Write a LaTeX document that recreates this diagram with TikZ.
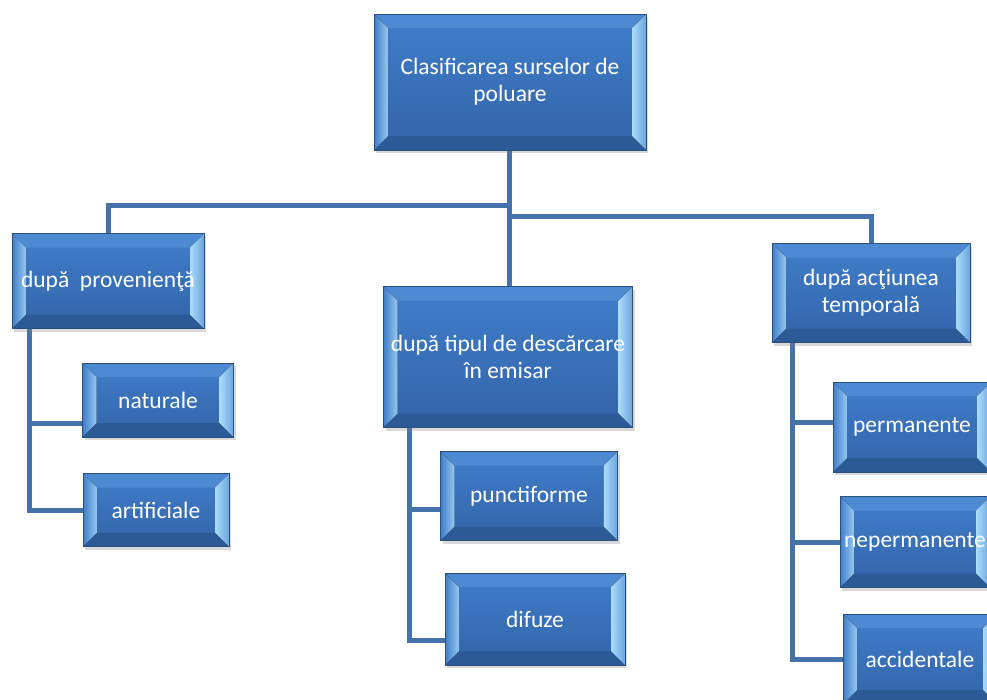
\documentclass[tikz,border=0pt]{standalone}
\usepackage{fontspec}
\setmainfont{Carlito}
\usepackage{tikz}
\usetikzlibrary{positioning,shadows,backgrounds}

\definecolor{boxtop}{RGB}{64,126,202}
\definecolor{boxbot}{RGB}{50,100,168}
\definecolor{boxedge}{RGB}{42,80,130}
\definecolor{bevtop}{RGB}{78,138,210}
\definecolor{bevbot}{RGB}{44,90,150}
\definecolor{bevleft}{RGB}{150,200,240}
\definecolor{bevright}{RGB}{170,220,250}
\definecolor{linkblue}{RGB}{70,114,171}

\tikzset{
  srcbox/.style={draw=boxedge, line width=0.8pt, top color=boxtop, bottom color=boxbot,
    text=white, align=center, inner sep=2pt, font=\fontsize{23.5}{27}\selectfont,
    drop shadow={shadow xshift=2pt, shadow yshift=-3pt, opacity=0.3},
    path picture={
      \coordinate (bnw) at (path picture bounding box.north west);
      \coordinate (bne) at (path picture bounding box.north east);
      \coordinate (bsw) at (path picture bounding box.south west);
      \coordinate (bse) at (path picture bounding box.south east);
      % bevel rim
      \fill[bevtop] (bnw) -- (bne) -- ([shift={(-14pt,-14pt)}]bne) -- ([shift={(14pt,-14pt)}]bnw) -- cycle;
      \fill[bevbot] (bsw) -- (bse) -- ([shift={(-14pt,14pt)}]bse) -- ([shift={(14pt,14pt)}]bsw) -- cycle;
      \fill[left color=boxtop, right color=bevleft] (bsw) -- (bnw) -- ([shift={(14pt,-14pt)}]bnw) -- ([shift={(14pt,14pt)}]bsw) -- cycle;
      \fill[left color=bevright, right color=boxtop!60!bevright] (bse) -- (bne) -- ([shift={(-14pt,-14pt)}]bne) -- ([shift={(-14pt,14pt)}]bse) -- cycle;
    }},
  link/.style={draw=linkblue, line width=5pt}
}

\begin{document}
\begin{tikzpicture}[x=1pt,y=-1pt]
  \useasboundingbox (0,0) rectangle (987,699);

  \node (root) [srcbox, minimum width=272pt, minimum height=136pt] at (510,82)
    {Clasificarea surselor de\\poluare};

  \node (prov) [srcbox, minimum width=192pt, minimum height=95pt] at (108,281)
    {după\ \ provenienţă};
  \node (nat) [srcbox, minimum width=151pt, minimum height=74pt] at (158,400) {naturale};
  \node (art) [srcbox, minimum width=146pt, minimum height=73pt] at (156,510) {artificiale};

  \node (emis) [srcbox, minimum width=249pt, minimum height=141pt] at (508,357)
    {după tipul de descărcare\\în emisar};
  \node (punct) [srcbox, minimum width=177pt, minimum height=89pt] at (529,496) {punctiforme};
  \node (dif) [srcbox, minimum width=180pt, minimum height=92pt] at (535,619) {difuze};

  \node (temp) [srcbox, minimum width=198pt, minimum height=99pt] at (871,293)
    {după acţiunea\\temporală};
  \node (perm) [srcbox, minimum width=158pt, minimum height=90pt] at (912,427) {permanente};
  \node (neperm) [srcbox, minimum width=150pt, minimum height=91pt] at (915,542) {nepermanente};
  \node (accid) [srcbox, minimum width=154pt, minimum height=90pt] at (920,659) {accidentale};

  \coordinate (jl) at (509,205);
  \coordinate (jr) at (509,216);

  \begin{scope}[on background layer]
    \fill[white] (0,0) rectangle (987,699);

    \draw[link] (root.south -| jl) -- (jl |- emis.north);
    \draw[link] (jl) -| (prov.north);
    \draw[link] (jr) -| (temp.north);

    \draw[link] ([xshift=18pt]prov.south west) |- ([yshift=-23pt]nat.west);
    \draw[link] ([xshift=18pt]prov.south west) |- (art.west);

    \draw[link] ([xshift=26pt]emis.south west) |- ([yshift=-13pt]punct.west);
    \draw[link] ([xshift=26pt]emis.south west) |- ([yshift=-21pt]dif.west);

    \draw[link] ([xshift=21pt]temp.south west) |- ([yshift=5pt]perm.west);
    \draw[link] ([xshift=21pt]temp.south west) |- (neperm.west);
    \draw[link] ([xshift=21pt]temp.south west) |- (accid.west);
  \end{scope}
\end{tikzpicture}
\end{document}
